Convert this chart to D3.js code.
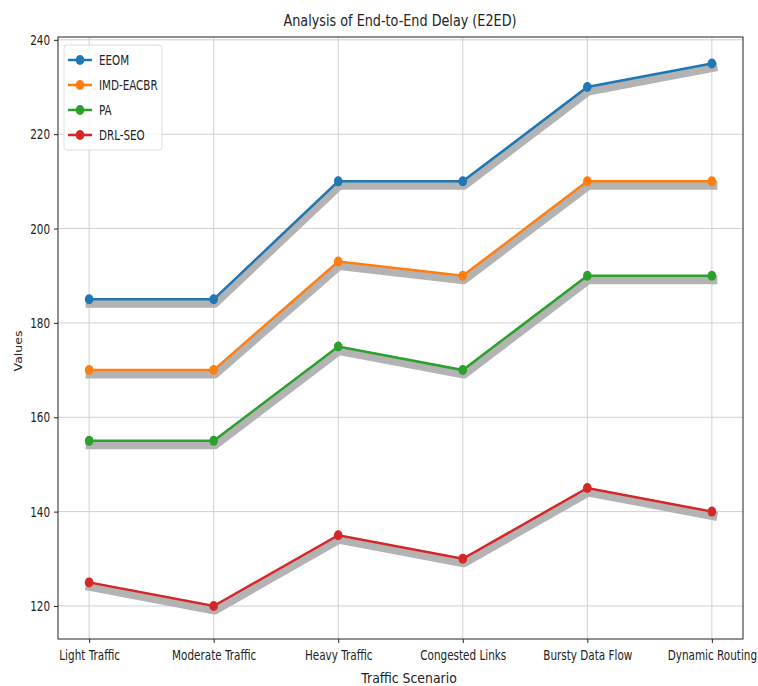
<!DOCTYPE html>
<html>
<head>
<meta charset="utf-8">
<script src="https://cdn.jsdelivr.net/npm/d3@7"></script>
<style>
  body { margin: 0; background: #fff; }
  text { font-family: "DejaVu Sans", sans-serif; fill: #222; }
</style>
</head>
<body>
<div id="chart"></div>
<script>
var scenarios = ["Light Traffic", "Moderate Traffic", "Heavy Traffic", "Congested Links", "Bursty Data Flow", "Dynamic Routing"];
var seriesNames = ["EEOM", "IMD-EACBR", "PA", "DRL-SEO"];
var colors = ["#1f77b4", "#ff7f0e", "#2ca02c", "#d62728"];

var eeom = [185, 185, 210, 210, 230, 235];
var imd = [170, 170, 193, 190, 210, 210];
var pa = [155, 155, 175, 170, 190, 190];
var drl = [125, 120, 135, 130, 145, 140];

var yTicks = [120, 140, 160, 180, 200, 220, 240];

var series = [eeom, imd, pa, drl].map(function(vals, i) {
    return {name: seriesNames[i], color: colors[i], values: vals};
});

// plot area
var margin = {top: 37, right: 15, bottom: 47, left: 58},
    width = 758 - margin.left - margin.right,
    height = 686 - margin.top - margin.bottom;

var svg = d3.select("#chart")
    .append("svg")
    .attr("width", 758)
    .attr("height", 686);

var g = svg.append("g")
    .attr("transform", "translate(" + margin.left + "," + margin.top + ")");

var x = d3.scaleLinear()
    .domain([-0.25, scenarios.length - 0.75])
    .range([0, width]);

var y = d3.scaleLinear()
    .domain([113, 240.6])
    .range([height, 0]);

// grid
g.append("g")
    .selectAll("line")
    .data(scenarios)
    .enter().append("line")
    .attr("x1", function(d, i) { return x(i); })
    .attr("x2", function(d, i) { return x(i); })
    .attr("y1", 0)
    .attr("y2", height)
    .attr("stroke", "#d0d0d0")
    .attr("stroke-width", 1);

g.append("g")
    .selectAll("line")
    .data(yTicks)
    .enter().append("line")
    .attr("x1", 0)
    .attr("x2", width)
    .attr("y1", function(d) { return y(d); })
    .attr("y2", function(d) { return y(d); })
    .attr("stroke", "#d0d0d0")
    .attr("stroke-width", 1);

// axes
var xAxis = g.append("g")
    .attr("transform", "translate(0," + height + ")")
    .call(d3.axisBottom(x)
        .tickValues(d3.range(scenarios.length))
        .tickFormat(function(i) { return scenarios[i]; })
        .tickSize(4).tickPadding(7));

var yAxis = g.append("g")
    .call(d3.axisLeft(y)
        .tickValues(yTicks)
        .tickSize(4).tickPadding(7));

// the picture's text is narrow, squeeze it sideways
[xAxis, yAxis].forEach(function(a) {
    a.select(".domain").remove();
    a.selectAll("text").attr("font-size", 14.5).attr("fill", "#222")
        .attr("transform", "scale(0.72,1)")
        .style("font-family", null);
    a.selectAll("line").attr("stroke", "#222");
});

g.append("rect")
    .attr("width", width)
    .attr("height", height)
    .attr("fill", "none")
    .attr("stroke", "#222")
    .attr("stroke-width", 1);

var line = d3.line()
    .x(function(d, i) { return x(i); })
    .y(function(d) { return y(d); });

// shadows
g.selectAll("path.shadow")
    .data(series)
    .enter().append("path")
    .attr("class", "shadow")
    .attr("d", function(d) { return line(d.values); })
    .attr("transform", "translate(1,4)")
    .attr("fill", "none")
    .attr("stroke", "#b3b3b3")
    .attr("stroke-width", 9)
    .attr("stroke-linecap", "square")
    .attr("stroke-linejoin", "round");

// lines
g.selectAll("path.series")
    .data(series)
    .enter().append("path")
    .attr("class", "series")
    .attr("d", function(d) { return line(d.values); })
    .attr("fill", "none")
    .attr("stroke", function(d) { return d.color; })
    .attr("stroke-width", 2.5);

series.forEach(function(s) {
    g.selectAll(null)
        .data(s.values)
        .enter().append("ellipse")
        .attr("cx", function(d, i) { return x(i); })
        .attr("cy", function(d) { return y(d); })
        .attr("rx", 4.3)
        .attr("ry", 5)
        .attr("fill", s.color);
});

// legend
var legend = g.append("g").attr("transform", "translate(6,8)");
legend.append("rect")
    .attr("width", 98)
    .attr("height", 105)
    .attr("rx", 3)
    .attr("fill", "#fff")
    .attr("fill-opacity", 0.8)
    .attr("stroke", "#ddd");

var items = legend.selectAll("g.item")
    .data(series)
    .enter().append("g")
    .attr("transform", function(d, i) { return "translate(0," + (15 + i * 25) + ")"; });
items.append("line")
    .attr("x1", 4).attr("x2", 28)
    .attr("stroke", function(d) { return d.color; })
    .attr("stroke-width", 2.5);
items.append("ellipse")
    .attr("cx", 16).attr("rx", 4.3).attr("ry", 5)
    .attr("fill", function(d) { return d.color; });
items.append("text")
    .attr("transform", "translate(35,0) scale(0.74,1)")
    .attr("dy", "0.35em")
    .attr("font-size", 14)
    .text(function(d) { return d.name; });

// titles
svg.append("text")
    .attr("transform", "translate(400,26) scale(0.776,1)")
    .attr("text-anchor", "middle")
    .attr("font-size", 16.5)
    .text("Analysis of End-to-End Delay (E2ED)");

svg.append("text")
    .attr("transform", "translate(409,683) scale(0.89,1)")
    .attr("text-anchor", "middle")
    .attr("font-size", 14)
    .text("Traffic Scenario");

svg.append("text")
    .attr("transform", "translate(22,351) rotate(-90) scale(1,0.8)")
    .attr("text-anchor", "middle")
    .attr("font-size", 12.5)
    .text("Values");
</script>
</body>
</html>
